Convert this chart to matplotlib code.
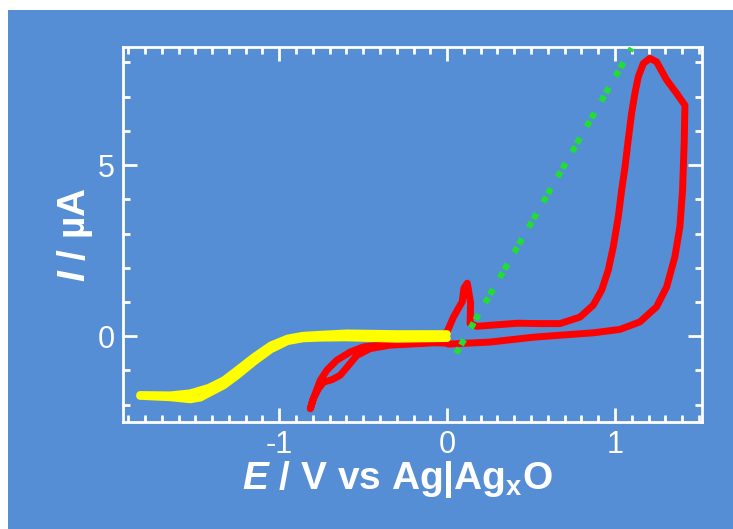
import matplotlib
matplotlib.use('Agg')
import matplotlib.pyplot as plt
from matplotlib.ticker import MultipleLocator, FixedLocator

plt.rcParams['font.family'] = ['Liberation Sans', 'DejaVu Sans']
plt.rcParams['axes.unicode_minus'] = False
plt.rcParams['mathtext.fontset'] = 'custom'
plt.rcParams['mathtext.rm'] = 'Liberation Sans:bold'
plt.rcParams['mathtext.bf'] = 'Liberation Sans:bold'
plt.rcParams['mathtext.it'] = 'Liberation Sans:italic'
plt.rcParams['mathtext.bfit'] = 'Liberation Sans:italic:bold'

# red CV (one loop, starting at 0 V going positive)
red_e = [0.008, 0.256, 0.51, 0.673, 0.871, 1.03, 1.149, 1.248, 1.308, 1.357, 1.387, 1.403, 1.413, 1.417,
         1.367, 1.308, 1.248, 1.208, 1.169, 1.139, 1.119, 1.099, 1.079, 1.06, 1.04, 1.02, 0.99, 0.96,
         0.921, 0.871, 0.792, 0.673, 0.55, 0.42, 0.256, 0.177, 0.137, 0.14, 0.125, 0.12, 0.10, 0.09,
         0.077, 0.038, 0.0, -0.06, -0.141, -0.339, -0.498, -0.577, -0.657, -0.716, -0.756, -0.786, -0.815,
         -0.80, -0.766, -0.736, -0.686, -0.637, -0.587, -0.538, -0.458, -0.339, -0.143, -0.08, -0.005]
red_i = [-0.23, -0.17, -0.03, 0.03, 0.10, 0.20, 0.42, 0.86, 1.44, 2.32, 3.2, 4.27, 5.73, 6.75,
         7.1, 7.49, 8.02, 8.12, 7.97, 7.58, 7.1, 6.51, 5.73, 4.95, 4.27, 3.49, 2.61, 1.93,
         1.35, 0.91, 0.56, 0.37, 0.37, 0.38, 0.32, 0.29, 0.37, 0.97, 1.43, 1.55, 1.4, 1.0,
         0.9, 0.56, 0.13, -0.05, -0.19, -0.23, -0.31, -0.46, -0.70, -0.99, -1.29, -1.68, -2.12,
         -1.85, -1.53, -1.34, -1.27, -1.14, -0.85, -0.56, -0.36, -0.26, -0.21, -0.19, -0.2]

# yellow CV (cathodic and anodic sweeps)
yel_e1 = [0.0, -0.3, -0.6, -0.76, -0.86, -0.95, -1.05, -1.15, -1.25, -1.33, -1.42, -1.53, -1.65, -1.83]
yel_i1 = [0.07, 0.07, 0.09, 0.05, 0.02, -0.06, -0.26, -0.6, -0.98, -1.28, -1.5, -1.66, -1.72, -1.71]
yel_e2 = [-1.83, -1.65, -1.53, -1.47, -1.40, -1.33, -1.25, -1.15, -1.05, -0.95, -0.86, -0.76, -0.6, -0.3, 0.0]
yel_i2 = [-1.75, -1.79, -1.85, -1.8, -1.62, -1.44, -1.15, -0.75, -0.39, -0.15, -0.07, -0.05, -0.04, -0.08, -0.06]

# green dotted line
grn_e = [0.054, 1.10]
grn_i = [-0.5, 8.42]

blue = '#558ED5'
fig = plt.figure(figsize=(7.33, 5.29), dpi=100, facecolor='white')
# blue panel with thin white margin at top and left
bg = fig.add_axes([8 / 733, 0, 1 - 8 / 733, 1 - 10 / 529], zorder=-1)
bg.axis('off')
bg.add_patch(plt.Rectangle((0, 0), 1, 1, transform=bg.transAxes, facecolor=blue, edgecolor='none'))

ax = fig.add_axes([0.168, 0.202, 0.79, 0.709])
ax.set_facecolor(blue)

ax.plot(grn_e, grn_i, color='#22DD33', lw=4.5, linestyle=(0, (1, 0.55, 1, 2.1)), zorder=3)
ax.plot(yel_e1, yel_i1, color='#FFFF00', lw=5.3, solid_capstyle='round', solid_joinstyle='round', zorder=2)
ax.plot(yel_e2, yel_i2, color='#FFFF00', lw=5.3, solid_capstyle='round', solid_joinstyle='round', zorder=2)
ax.plot(red_e, red_i, color='#FF0000', lw=5, solid_capstyle='round', solid_joinstyle='round', zorder=1)

ax.set_xlim(-1.93, 1.52)
ax.set_ylim(-2.51, 8.45)
ax.xaxis.set_major_locator(FixedLocator([-1, 0, 1]))
ax.xaxis.set_minor_locator(MultipleLocator(0.1))
ax.yaxis.set_major_locator(FixedLocator([0, 5]))
ax.yaxis.set_minor_locator(MultipleLocator(1))

for s in ax.spines.values():
    s.set_color('white')
    s.set_linewidth(2)
ax.tick_params(which='both', direction='in', top=True, right=True, colors='white', width=2)
ax.tick_params(which='major', length=10, labelsize=22, pad=6)
ax.tick_params(which='minor', length=5)

ax.set_xlabel(r'$\mathbfit{E}$ / V vs Ag|Ag$_\mathbf{x}$O', color='white', fontsize=28,
              fontweight='bold')
ax.xaxis.set_label_coords(0.473, -0.097)
ax.set_ylabel(r'$\mathbfit{I}$ / µA', color='white', fontsize=28, fontweight='bold')
ax.yaxis.set_label_coords(-0.048, 0.5)

fig.savefig('out.png', dpi=100, facecolor=fig.get_facecolor())
